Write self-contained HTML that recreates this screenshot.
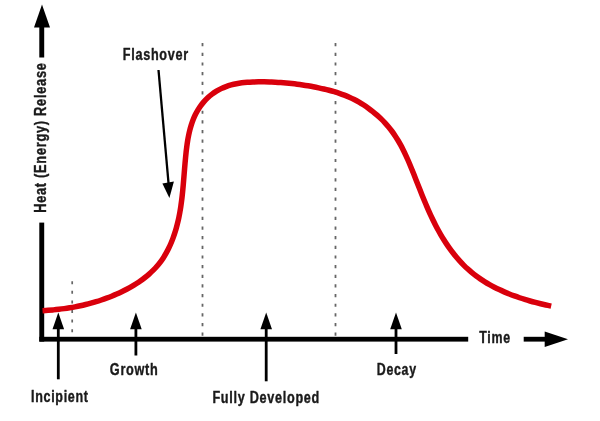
<!DOCTYPE html>
<html>
<head>
<meta charset="utf-8">
<title>Fire Development Curve</title>
<style>
  html, body { margin: 0; padding: 0; background: #ffffff; }
  body { width: 600px; height: 421px; overflow: hidden; font-family: "Liberation Sans", sans-serif; }
  svg { display: block; }
  text { font-family: "Liberation Sans", sans-serif; font-weight: bold; fill: #1a1a1a; stroke: #1a1a1a; stroke-width: 0.4px; stroke-linejoin: round; }
</style>
</head>
<body>
<svg width="600" height="421" viewBox="0 0 600 421">
  <rect x="0" y="0" width="600" height="421" fill="#ffffff"/>

  <!-- dotted phase dividers -->
  <g stroke="#666666" stroke-width="1.8" stroke-dasharray="3.2 6.45" fill="none">
    <line x1="202.5" y1="43.1" x2="202.5" y2="337"/>
    <line x1="335.5" y1="43.1" x2="335.5" y2="337"/>
  </g>
  <line x1="72.2" y1="281.2" x2="72.2" y2="337" stroke="#666666" stroke-width="1.7" stroke-dasharray="3 6.6"/>


  <!-- axes -->
  <g fill="#000000" stroke="none">
    <!-- y axis lower shaft -->
    <rect x="39.3" y="222.6" width="4.9" height="119"/>
    <!-- x axis -->
    <rect x="39.3" y="336.8" width="428.9" height="4.8"/>
    <!-- y axis upper shaft + head -->
    <rect x="39.3" y="26" width="4.9" height="31.5"/>
    <polygon points="42,4.6 50,27.6 34,27.6"/>
    <!-- time arrow -->
    <rect x="523.7" y="336.8" width="23" height="4.8"/>
    <polygon points="568,339.2 544.7,331.5 544.7,347"/>
  </g>

  <!-- red curve -->
  <path id="curve" fill="none" stroke="#d9000c" stroke-width="5.5" stroke-linecap="butt" stroke-linejoin="round"
        d="M42.52,310.66 C43.43,310.61 46.17,310.46 47.99,310.33 C49.82,310.19 51.63,310.04 53.44,309.87 C55.26,309.70 57.06,309.51 58.87,309.30 C60.67,309.09 62.47,308.86 64.26,308.61 C66.06,308.36 67.85,308.09 69.63,307.80 C71.42,307.50 73.20,307.19 74.98,306.85 C76.75,306.51 78.53,306.15 80.29,305.76 C82.06,305.38 83.83,304.97 85.59,304.54 C87.35,304.11 89.10,303.66 90.86,303.18 C92.61,302.70 94.36,302.20 96.10,301.67 C97.85,301.14 99.59,300.58 101.33,300.00 C103.06,299.43 104.80,298.82 106.52,298.19 C108.24,297.56 109.96,296.90 111.67,296.21 C113.37,295.53 115.07,294.81 116.76,294.07 C118.44,293.33 120.11,292.56 121.76,291.77 C123.42,290.97 125.06,290.14 126.68,289.29 C128.29,288.43 129.90,287.55 131.47,286.64 C133.05,285.72 134.61,284.78 136.14,283.80 C137.67,282.82 139.18,281.82 140.65,280.77 C142.13,279.73 143.57,278.65 144.99,277.54 C146.40,276.43 147.78,275.28 149.13,274.09 C150.47,272.90 151.78,271.68 153.05,270.41 C154.31,269.15 155.54,267.84 156.72,266.49 C157.91,265.14 159.05,263.76 160.14,262.32 C161.23,260.89 162.28,259.41 163.28,257.89 C164.27,256.37 165.22,254.80 166.12,253.20 C167.02,251.61 167.87,249.97 168.68,248.31 C169.49,246.66 170.25,244.97 170.98,243.27 C171.70,241.58 172.38,239.85 173.02,238.13 C173.66,236.40 174.25,234.67 174.81,232.93 C175.37,231.19 175.89,229.45 176.38,227.70 C176.87,225.96 177.32,224.21 177.74,222.45 C178.17,220.70 178.56,218.94 178.92,217.18 C179.29,215.41 179.62,213.65 179.93,211.88 C180.25,210.11 180.53,208.33 180.80,206.56 C181.07,204.78 181.31,203.00 181.54,201.21 C181.77,199.43 181.98,197.64 182.18,195.84 C182.38,194.05 182.57,192.25 182.74,190.45 C182.92,188.65 183.08,186.85 183.24,185.04 C183.40,183.23 183.55,181.42 183.70,179.60 C183.85,177.78 183.99,175.96 184.14,174.14 C184.28,172.32 184.43,170.49 184.58,168.66 C184.73,166.83 184.88,164.99 185.04,163.15 C185.20,161.31 185.37,159.47 185.55,157.63 C185.73,155.78 185.92,153.93 186.12,152.08 C186.33,150.23 186.55,148.37 186.79,146.53 C187.04,144.68 187.30,142.83 187.60,141.00 C187.90,139.16 188.23,137.33 188.60,135.52 C188.97,133.71 189.37,131.91 189.82,130.13 C190.27,128.36 190.76,126.60 191.31,124.86 C191.86,123.13 192.45,121.42 193.11,119.74 C193.77,118.06 194.49,116.40 195.27,114.79 C196.06,113.17 196.91,111.59 197.83,110.05 C198.76,108.51 199.76,107.00 200.82,105.55 C201.89,104.10 203.02,102.69 204.22,101.36 C205.41,100.02 206.67,98.73 207.98,97.52 C209.29,96.31 210.66,95.17 212.08,94.11 C213.49,93.04 214.97,92.06 216.48,91.15 C217.99,90.23 219.55,89.40 221.15,88.64 C222.74,87.87 224.38,87.18 226.05,86.57 C227.72,85.95 229.43,85.41 231.15,84.93 C232.88,84.46 234.65,84.06 236.42,83.71 C238.20,83.37 240.01,83.09 241.82,82.85 C243.64,82.61 245.48,82.44 247.32,82.29 C249.17,82.14 251.03,82.05 252.89,81.97 C254.75,81.90 256.62,81.86 258.48,81.84 C260.34,81.82 262.21,81.83 264.07,81.85 C265.93,81.87 267.79,81.91 269.65,81.97 C271.50,82.03 273.36,82.11 275.20,82.20 C277.05,82.30 278.90,82.41 280.74,82.55 C282.58,82.68 284.42,82.83 286.25,83.00 C288.09,83.17 289.91,83.35 291.74,83.56 C293.56,83.76 295.38,83.98 297.19,84.22 C299.00,84.45 300.81,84.71 302.61,84.98 C304.41,85.25 306.21,85.53 307.99,85.83 C309.78,86.14 311.56,86.45 313.33,86.79 C315.11,87.12 316.88,87.47 318.63,87.83 C320.39,88.20 322.14,88.57 323.89,88.97 C325.63,89.37 327.36,89.79 329.09,90.24 C330.81,90.69 332.53,91.16 334.24,91.66 C335.94,92.16 337.64,92.70 339.33,93.27 C341.02,93.84 342.70,94.44 344.36,95.10 C346.03,95.75 347.69,96.44 349.34,97.17 C350.98,97.91 352.62,98.70 354.24,99.53 C355.86,100.36 357.47,101.24 359.06,102.16 C360.65,103.08 362.22,104.04 363.77,105.04 C365.32,106.04 366.85,107.09 368.35,108.17 C369.85,109.25 371.33,110.37 372.78,111.53 C374.23,112.68 375.65,113.88 377.04,115.10 C378.43,116.33 379.79,117.59 381.11,118.88 C382.43,120.16 383.72,121.49 384.96,122.83 C386.21,124.18 387.41,125.56 388.58,126.97 C389.74,128.37 390.86,129.80 391.94,131.26 C393.01,132.71 394.05,134.19 395.04,135.69 C396.04,137.19 397.00,138.71 397.92,140.25 C398.85,141.79 399.74,143.35 400.60,144.93 C401.47,146.50 402.30,148.10 403.11,149.70 C403.92,151.31 404.70,152.93 405.46,154.56 C406.23,156.20 406.97,157.84 407.70,159.50 C408.43,161.15 409.14,162.82 409.84,164.49 C410.54,166.16 411.23,167.84 411.92,169.52 C412.60,171.21 413.27,172.90 413.95,174.59 C414.62,176.28 415.29,177.97 415.96,179.67 C416.63,181.36 417.29,183.06 417.96,184.75 C418.63,186.45 419.30,188.15 419.98,189.84 C420.65,191.54 421.33,193.24 422.01,194.93 C422.70,196.62 423.39,198.31 424.08,200.00 C424.78,201.69 425.49,203.37 426.20,205.05 C426.92,206.73 427.64,208.41 428.38,210.08 C429.12,211.75 429.87,213.41 430.64,215.07 C431.41,216.73 432.19,218.38 432.98,220.02 C433.78,221.66 434.60,223.30 435.43,224.92 C436.27,226.54 437.12,228.16 437.99,229.76 C438.87,231.37 439.76,232.96 440.69,234.55 C441.61,236.13 442.55,237.70 443.52,239.25 C444.48,240.81 445.47,242.35 446.49,243.87 C447.51,245.39 448.55,246.90 449.61,248.39 C450.68,249.87 451.77,251.34 452.89,252.78 C454.00,254.22 455.15,255.64 456.31,257.04 C457.48,258.43 458.68,259.80 459.90,261.14 C461.12,262.48 462.37,263.80 463.65,265.08 C464.93,266.36 466.23,267.61 467.56,268.83 C468.90,270.04 470.26,271.23 471.65,272.38 C473.04,273.53 474.45,274.64 475.90,275.72 C477.34,276.80 478.81,277.85 480.30,278.87 C481.79,279.88 483.31,280.87 484.84,281.82 C486.38,282.78 487.94,283.70 489.52,284.59 C491.09,285.49 492.69,286.35 494.31,287.19 C495.92,288.02 497.55,288.83 499.20,289.61 C500.85,290.39 502.51,291.14 504.19,291.87 C505.86,292.60 507.55,293.30 509.25,293.98 C510.95,294.66 512.67,295.31 514.39,295.94 C516.11,296.57 517.84,297.17 519.58,297.76 C521.31,298.34 523.06,298.90 524.81,299.44 C526.56,299.98 528.32,300.50 530.07,301.00 C531.83,301.50 533.59,301.98 535.36,302.45 C537.12,302.91 538.88,303.35 540.64,303.78 C542.41,304.20 544.17,304.61 545.93,305.01 C547.68,305.40 550.31,305.95 551.19,306.14"/>

  <!-- label arrows -->
  <g fill="#000000" stroke="#000000" stroke-width="2.8">
    <line x1="58.3" y1="326" x2="58.3" y2="379.3"/>
    <polygon points="58.3,312.6 64.1,329.3 52.5,329.3" stroke="none"/>
    <line x1="135.9" y1="326" x2="135.9" y2="355.5"/>
    <polygon points="135.9,312.6 141.7,329.3 130.1,329.3" stroke="none"/>
    <line x1="266.2" y1="326" x2="266.2" y2="381.3"/>
    <polygon points="266.2,312.6 272,329.3 260.4,329.3" stroke="none"/>
    <line x1="396" y1="326" x2="396" y2="354"/>
    <polygon points="396,312.6 401.8,329.3 390.2,329.3" stroke="none"/>
    <!-- flashover arrow -->
    <line x1="158.5" y1="70" x2="168.6" y2="184" stroke-width="2.3"/>
    <polygon points="169.4,198 162.4,183.4 173.9,181.4" stroke="none"/>
  </g>

  <!-- labels -->
  <defs>
    <filter id="gray" x="-5%" y="-20%" width="110%" height="140%" color-interpolation-filters="sRGB">
      <feColorMatrix type="saturate" values="0"/>
    </filter>
    <filter id="gray2" x="-40%" y="-5%" width="180%" height="110%" color-interpolation-filters="sRGB">
      <feColorMatrix type="saturate" values="0"/>
    </filter>
  </defs>
  <g filter="url(#gray)" font-size="16" letter-spacing="0.9">
    <text x="122.8" y="59.6" textLength="66.0" lengthAdjust="spacingAndGlyphs">Flashover</text>
    <text x="31.0" y="402.3" textLength="57.7" lengthAdjust="spacingAndGlyphs">Incipient</text>
    <text x="109.8" y="374.6" textLength="48.7" lengthAdjust="spacingAndGlyphs">Growth</text>
    <text x="212.4" y="402.8" textLength="107.6" lengthAdjust="spacingAndGlyphs">Fully Developed</text>
    <text x="376.8" y="374.9" textLength="40" lengthAdjust="spacingAndGlyphs">Decay</text>
    <text x="479.3" y="342.6" textLength="31.5" lengthAdjust="spacingAndGlyphs">Time</text>
  </g>
  <g filter="url(#gray2)" font-size="16" letter-spacing="0.9">
    <text transform="translate(45.5,212.8) rotate(-90)" x="0" y="0" textLength="150.4" lengthAdjust="spacingAndGlyphs">Heat (Energy) Release</text>
  </g>
</svg>
</body>
</html>
